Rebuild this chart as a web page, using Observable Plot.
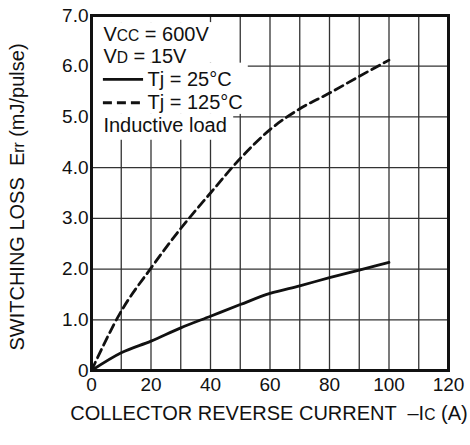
<!DOCTYPE html>
<html>
<head>
<meta charset="utf-8">
<script src="https://cdn.jsdelivr.net/npm/d3@7"></script>
<script src="https://cdn.jsdelivr.net/npm/@observablehq/plot@0.6"></script>
<style>
  html, body { margin: 0; padding: 0; background: #fff; }
  #chart svg { display: block; }
</style>
</head>
<body>
<div id="chart"></div>
<script>
// ---- data ----
const current = [0, 10, 20, 30, 40, 50, 60, 70, 80, 90, 100];
const loss25  = [0, 0.35, 0.58, 0.84, 1.07, 1.30, 1.52, 1.67, 1.83, 1.98, 2.13];
const loss125 = [0, 1.17, 2.02, 2.80, 3.50, 4.18, 4.75, 5.16, 5.47, 5.80, 6.12];

const xTicks = [0, 20, 40, 60, 80, 100, 120];
const xTickLabels = ["0", "20", "40", "60", "80", "100", "120"];
const yTicks = [0, 1, 2, 3, 4, 5, 6, 7];
const yTickLabels = ["0", "1.0", "2.0", "3.0", "4.0", "5.0", "6.0", "7.0"];
const xGrid = [10, 20, 30, 40, 50, 60, 70, 80, 90, 100, 110];
const yGrid = [1, 2, 3, 4, 5, 6];

const legendLines = ["V{CC} = 600V", "V{D} = 15V", "Tj = 25°C", "Tj = 125°C", "Inductive load"];
const xLabel = "COLLECTOR REVERSE CURRENT  –I{C} (A)";
const yLabel = "SWITCHING LOSS  E{rr} (mJ/pulse)";

const rows25 = current.map((c, i) => ({x: c, y: loss25[i]}));
const rows125 = current.map((c, i) => ({x: c, y: loss125[i]}));

// legend layout (data coordinates)
const legendRowY = [6.63, 6.19, 5.74, 5.29, 4.83];
const legendRows = legendLines.map((t, i) => ({t, y: legendRowY[i], x: i === 2 || i === 3 ? 18.8 : 4}));
const sampleRows = [
  {x1: 4, x2: 17.5, y: 5.74},
  {x1: 4, x2: 17.5, y: 5.28}
];
const masks = [
  {x1: 0, x2: 38, y1: 6.86, y2: 7},
  {x1: 0, x2: 42, y1: 6.06, y2: 6.86},
  {x1: 0, x2: 52.7, y1: 5.05, y2: 6.06},
  {x1: 0, x2: 47.8, y1: 4.54, y2: 5.05}
];

const FONT = "'Liberation Sans', Arial, Helvetica, sans-serif";

const plot = Plot.plot({
  width: 470,
  height: 445,
  marginLeft: 91,
  marginRight: 22,
  marginTop: 15,
  marginBottom: 75,
  style: {fontFamily: FONT, fontSize: "19px", color: "#111", background: "#fff"},
  x: {domain: [0, 120], ticks: xTicks, tickFormat: (d) => xTickLabels[xTicks.indexOf(d)], tickSize: 0, tickPadding: 7, label: null},
  y: {domain: [0, 7], ticks: yTicks, tickFormat: (d) => yTickLabels[yTicks.indexOf(d)], tickSize: 0, tickPadding: 3, label: null},
  marks: [
    Plot.ruleX(xGrid, {stroke: "#333", strokeWidth: 1.3}),
    Plot.ruleY(yGrid, {stroke: "#333", strokeWidth: 1.3}),
    Plot.rect(masks, {x1: "x1", x2: "x2", y1: "y1", y2: "y2", fill: "#fff"}),
    Plot.line(rows25, {x: "x", y: "y", stroke: "#111", strokeWidth: 2.8, curve: "monotone-x"}),
    Plot.line(rows125, {x: "x", y: "y", stroke: "#111", strokeWidth: 2.8, strokeDasharray: "9,5", curve: "monotone-x"}),
    Plot.ruleY([sampleRows[0]], {x1: "x1", x2: "x2", y: "y", stroke: "#111", strokeWidth: 2.8}),
    Plot.ruleY([sampleRows[1]], {x1: "x1", x2: "x2", y: "y", stroke: "#111", strokeWidth: 2.8, strokeDasharray: "9,5"}),
    Plot.text(legendRows, {x: "x", y: "y", text: "t", textAnchor: "start", fontSize: 20, fill: "#111"}),
    Plot.text([xLabel], {frameAnchor: "bottom", textAnchor: "middle", lineAnchor: "middle", dx: -1, dy: 43, fontSize: 20, fill: "#111"}),
    Plot.text([yLabel], {frameAnchor: "left", textAnchor: "middle", lineAnchor: "middle", rotate: -90, dx: -74, dy: 4, fontSize: 20, fill: "#111"}),
    Plot.frame({stroke: "#111", strokeWidth: 3})
  ]
});

// rich text: {…} parts rendered smaller (small-caps style subscripts)
d3.select(plot).selectAll("text").each(function () {
  const s = this.textContent;
  if (s.indexOf("{") < 0) return;
  const parts = s.split(/\{([^}]*)\}/);
  while (this.firstChild) this.removeChild(this.firstChild);
  this.setAttribute("style", "white-space: pre");
  parts.forEach((p, i) => {
    if (!p) return;
    const ts = document.createElementNS("http://www.w3.org/2000/svg", "tspan");
    ts.textContent = p;
    if (i % 2 === 1) ts.setAttribute("font-size", "0.78em");
    this.appendChild(ts);
  });
});

document.getElementById("chart").appendChild(plot);
</script>
</body>
</html>
